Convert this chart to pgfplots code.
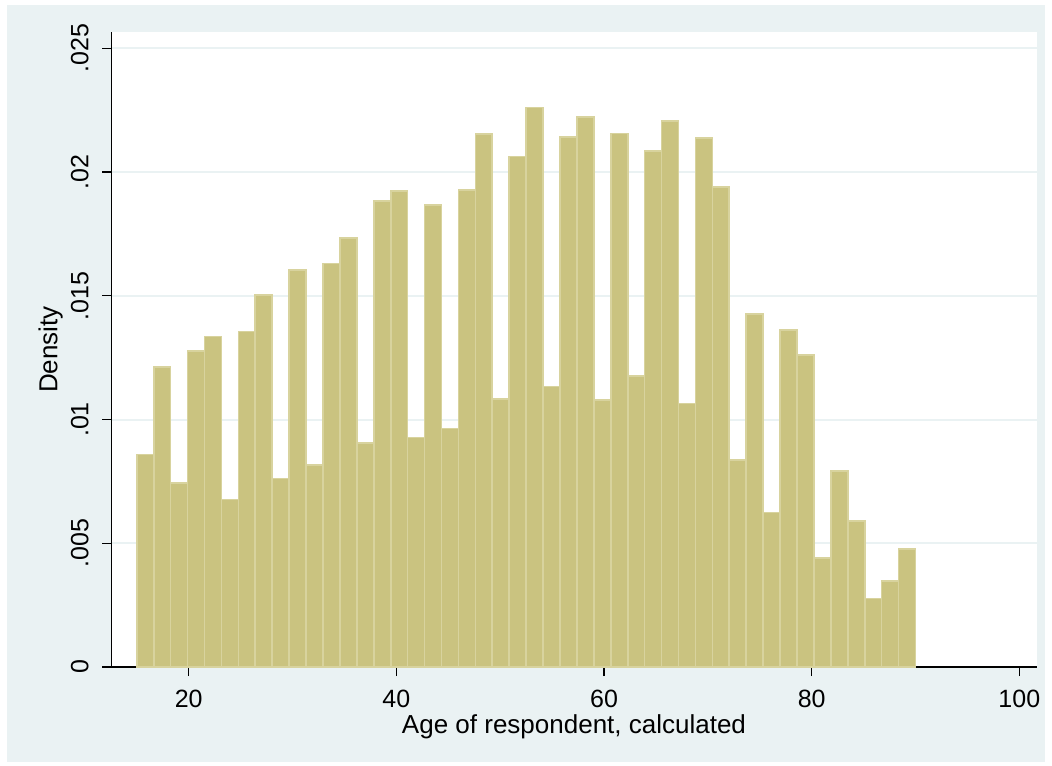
\documentclass[border=0pt]{standalone}
\usepackage{fontspec}
\setmainfont{Liberation Sans}
\usepackage{pgfplots}
\pgfplotsset{compat=1.18}
\definecolor{bgc}{HTML}{EAF2F3}
\definecolor{gridc}{HTML}{EAF2F3}
\definecolor{barfill}{HTML}{CAC380}
\definecolor{baredge}{HTML}{D8D39E}
\begin{document}
\begin{tikzpicture}
\fill[white] (0,0) rectangle (1052bp,766bp);
\fill[bgc] (7bp,4bp) rectangle (1045bp,761bp);
\begin{axis}[
  at={(111.3bp,99bp)}, anchor=south west,
  scale only axis, width=925.4bp, height=634.7bp,
  xmin=12.545, xmax=101.676, ymin=0, ymax=0.025646,
  axis x line*=bottom, axis y line*=left,
  axis line style={black, line width=1.2bp, -},
  axis background/.style={fill=white},
  scaled y ticks=false, scaled x ticks=false,
  xtick={20,40,60,80,100}, xticklabels={20,40,60,80,100},
  ytick={0,0.005,0.01,0.015,0.02,0.025}, yticklabels={0,.005,.01,.015,.02,.025},
  tick align=outside, major tick length=9bp, tick style={black, line width=1.2bp},
  ymajorgrids, grid style={gridc, line width=2bp},
  ticklabel style={font=\fontsize{25bp}{30bp}\selectfont},
  xticklabel style={anchor=base, yshift=-31bp},
  yticklabel style={rotate=90, anchor=base, yshift=14bp},
  xlabel={Age of respondent, calculated},
  ylabel={Density},
  label style={font=\fontsize{26bp}{31bp}\selectfont},
  xlabel style={at={(axis description cs:0.5,0)}, anchor=base, yshift=-66bp},
  ylabel style={at={(axis description cs:-0.05835,0.5)}, anchor=base, rotate=0},
]
\addplot[ybar interval, fill=barfill, draw=baredge, line width=1.6bp] coordinates {
(15.0000,0.00859) (16.6304,0.01212) (18.2609,0.00743) (19.8913,0.01276)
(21.5217,0.01336) (23.1522,0.00677) (24.7826,0.01356) (26.4130,0.01504)
(28.0435,0.00761) (29.6739,0.01603) (31.3043,0.00816) (32.9348,0.01631)
(34.5652,0.01733) (36.1957,0.00904) (37.8261,0.01882) (39.4565,0.01924)
(41.0870,0.00927) (42.7174,0.01867) (44.3478,0.00964) (45.9783,0.01927)
(47.6087,0.02153) (49.2391,0.01082) (50.8696,0.02063) (52.5000,0.02260)
(54.1304,0.01134) (55.7609,0.02141) (57.3913,0.02223) (59.0217,0.01079)
(60.6522,0.02156) (62.2826,0.01175) (63.9130,0.02085) (65.5435,0.02207)
(67.1739,0.01065) (68.8043,0.02137) (70.4348,0.01939) (72.0652,0.00836)
(73.6957,0.01426) (75.3261,0.00625) (76.9565,0.01362) (78.5870,0.01261)
(80.2174,0.00440) (81.8478,0.00791) (83.4783,0.00590) (85.1087,0.00277)
(86.7391,0.00348) (88.3696,0.00477) (90.0000,0.00477)
};
\end{axis}
\end{tikzpicture}
\end{document}
